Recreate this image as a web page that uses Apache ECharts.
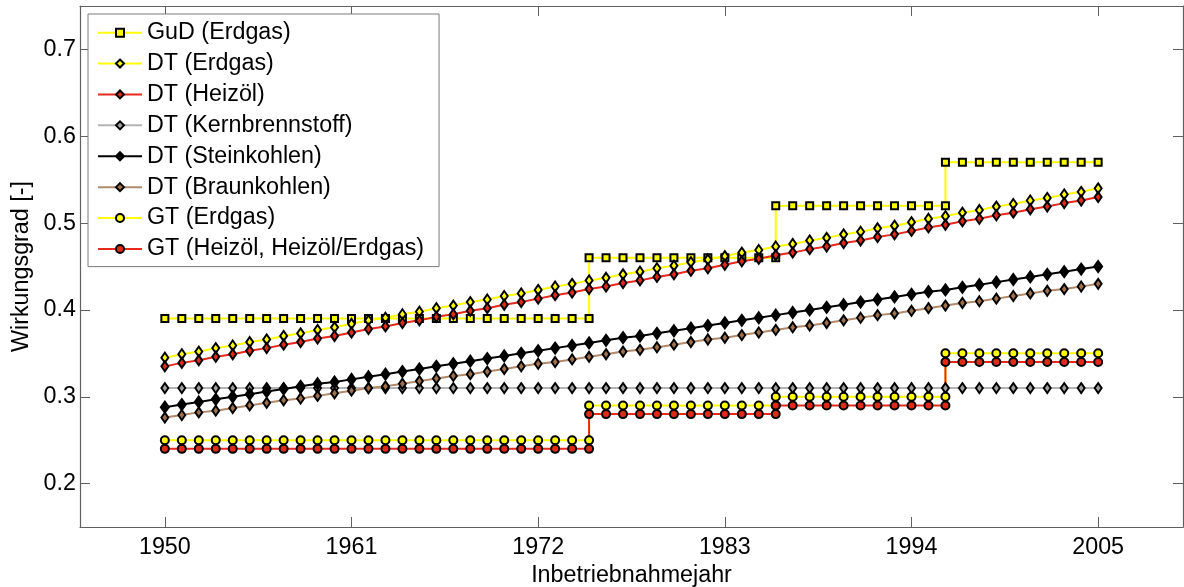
<!DOCTYPE html>
<html>
<head>
<meta charset="utf-8">
<script src="https://cdn.jsdelivr.net/npm/echarts@6/dist/echarts.min.js"></script>
<style>html,body{margin:0;padding:0;background:#fff}#c{width:1184px;height:587px}</style>
</head>
<body>
<div id="c"></div>
<script>
const years = [1950,1951,1952,1953,1954,1955,1956,1957,1958,1959,1960,1961,1962,1963,1964,1965,1966,1967,1968,1969,1970,1971,1972,1973,1974,1975,1976,1977,1978,1979,1980,1981,1982,1983,1984,1985,1986,1987,1988,1989,1990,1991,1992,1993,1994,1995,1996,1997,1998,1999,2000,2001,2002,2003,2004,2005];
const xTicks = [1950,1961,1972,1983,1994,2005];
const yTicks = [0.2,0.3,0.4,0.5,0.6,0.7];

// step-type series: levels between break years (both levels shown at a break year)
const stepBreaks = [1950,1975,1986,1996,2005];
const gudLevels = [0.39,0.46,0.52,0.57];
const gtErdgasLevels = [0.25,0.29,0.30,0.35];
const gtHeizoelLevels = [0.24,0.28,0.29,0.34];
const kernBreaks = [1950,2005];
const kernLevels = [0.31];

// yearly series
const dtErdgas = [0.345,0.349,0.352,0.356,0.359,0.363,0.366,0.370,0.373,0.377,0.380,0.384,0.388,0.391,0.395,0.398,0.402,0.405,0.409,0.412,0.416,0.419,0.423,0.427,0.430,0.434,0.437,0.441,0.444,0.448,0.451,0.455,0.458,0.462,0.466,0.469,0.473,0.476,0.480,0.483,0.487,0.490,0.494,0.497,0.501,0.505,0.508,0.512,0.515,0.519,0.522,0.526,0.529,0.533,0.536,0.540];
const dtHeizoel = [0.335,0.339,0.342,0.346,0.349,0.353,0.356,0.360,0.363,0.367,0.370,0.374,0.378,0.381,0.385,0.388,0.392,0.395,0.399,0.402,0.406,0.409,0.413,0.417,0.420,0.424,0.427,0.431,0.434,0.438,0.441,0.445,0.448,0.452,0.456,0.459,0.463,0.466,0.470,0.473,0.477,0.480,0.484,0.487,0.491,0.495,0.498,0.502,0.505,0.509,0.512,0.516,0.519,0.523,0.526,0.530];
const dtStein = [0.288,0.291,0.294,0.297,0.300,0.303,0.306,0.309,0.312,0.315,0.317,0.320,0.323,0.326,0.329,0.332,0.335,0.338,0.341,0.344,0.347,0.350,0.353,0.356,0.359,0.362,0.365,0.368,0.370,0.373,0.376,0.379,0.382,0.385,0.388,0.391,0.394,0.397,0.400,0.403,0.406,0.409,0.412,0.415,0.418,0.421,0.423,0.426,0.429,0.432,0.435,0.438,0.441,0.444,0.447,0.450];
const dtBraun = [0.276,0.279,0.282,0.284,0.287,0.290,0.293,0.296,0.298,0.301,0.304,0.307,0.310,0.312,0.315,0.318,0.321,0.324,0.326,0.329,0.332,0.335,0.338,0.340,0.343,0.346,0.349,0.352,0.354,0.357,0.360,0.363,0.366,0.368,0.371,0.374,0.377,0.380,0.382,0.385,0.388,0.391,0.394,0.396,0.399,0.402,0.405,0.408,0.410,0.413,0.416,0.419,0.422,0.424,0.427,0.430];

const names = ['GuD (Erdgas)','DT (Erdgas)','DT (Heizöl)','DT (Kernbrennstoff)','DT (Steinkohlen)','DT (Braunkohlen)','GT (Erdgas)','GT (Heizöl, Heizöl/Erdgas)'];

function stepData(breaks, levels){
  const out=[];
  for(let k=0;k<levels.length;k++){
    years.forEach(y=>{ if(y>=breaks[k] && y<=breaks[k+1]) out.push([y,levels[k]]); });
  }
  return out;
}
function yearly(arr){ return years.map((y,i)=>[y,arr[i]]); }

const FONT = 'Liberation Sans, Arial, sans-serif';
const FS = 23.3;
const AX = '#606060';

function mk(name, data, lineColor, symbol, size, fill){
  return {
    name, type:'line', data, xAxisIndex:0, yAxisIndex:0,
    symbol, symbolSize:size, showSymbol:true, animation:false,
    lineStyle:{color:lineColor,width:2},
    itemStyle:{color:fill,borderColor:'#000',borderWidth:2},
    emphasis:{disabled:true}
  };
}

const series = [
  mk(names[0], stepData(stepBreaks,gudLevels), '#ffff00','rect',7,'#ffff00'),
  mk(names[1], yearly(dtErdgas), '#ffff00','diamond',[7,10],'#ffff00'),
  mk(names[2], yearly(dtHeizoel), '#e8281c','diamond',[7,10],'#e02a18'),
  mk(names[3], stepData(kernBreaks,kernLevels), '#b4b4b4','diamond',[7,10],'#a0a0a0'),
  mk(names[4], yearly(dtStein), '#000000','diamond',[8,11],'#000000'),
  mk(names[5], yearly(dtBraun), '#b08a6a','diamond',[7,10],'#a0704a'),
  mk(names[6], stepData(stepBreaks,gtErdgasLevels), '#ffff00','circle',8,'#ffff00'),
  mk(names[7], stepData(stepBreaks,gtHeizoelLevels), '#e8281c','circle',8,'#e02a18')
];

const axisCommon = {
  axisLine:{show:true,onZero:false,lineStyle:{color:AX,width:1.2}},
  splitLine:{show:false}
};

const chart = echarts.init(document.getElementById('c'), null, {renderer:'canvas'});
chart.setOption({
  backgroundColor:'#fff',
  animation:false,
  grid:{left:80,right:1,top:6,bottom:60,containLabel:false,outerBoundsMode:'none'},
  xAxis:[
    Object.assign({type:'value',min:1945,max:2010,position:'bottom',
      name:'Inbetriebnahmejahr',nameLocation:'middle',nameGap:36,
      nameTextStyle:{color:'#000',fontSize:FS,fontFamily:FONT},
      axisTick:{show:true,inside:true,length:10,customValues:xTicks,lineStyle:{color:AX}},
      axisLabel:{show:true,color:'#000',fontSize:FS,fontFamily:FONT,margin:9,customValues:xTicks,formatter:v=>String(v)}
    },axisCommon),
    Object.assign({type:'value',min:1945,max:2010,position:'top',
      axisTick:{show:true,inside:true,length:10,customValues:xTicks,lineStyle:{color:AX}},
      axisLabel:{show:false}
    },axisCommon)
  ],
  yAxis:[
    Object.assign({type:'value',min:0.15,max:0.75,position:'left',
      name:'Wirkungsgrad [-]',nameLocation:'middle',nameGap:45,
      nameTextStyle:{color:'#000',fontSize:FS,fontFamily:FONT},
      axisTick:{show:true,inside:true,length:10,customValues:yTicks,lineStyle:{color:AX}},
      axisLabel:{show:true,color:'#000',fontSize:FS,fontFamily:FONT,margin:4,customValues:yTicks,formatter:v=>v.toFixed(1)}
    },axisCommon),
    Object.assign({type:'value',min:0.15,max:0.75,position:'right',
      axisTick:{show:true,inside:true,length:10,customValues:yTicks,lineStyle:{color:AX}},
      axisLabel:{show:false}
    },axisCommon)
  ],
  legend:{
    show:true, orient:'vertical', left:88, top:14,
    data:names,
    itemWidth:44, itemHeight:10, itemGap:7.6, itemTextGap:5,
    padding:[7,15,6,9],
    borderColor:'#7a7a7a', borderWidth:1, backgroundColor:'#fff',
    textStyle:{color:'#000',fontSize:FS,fontFamily:FONT,lineHeight:23.3},
    selectedMode:false
  },
  series
});
</script>
</body>
</html>
